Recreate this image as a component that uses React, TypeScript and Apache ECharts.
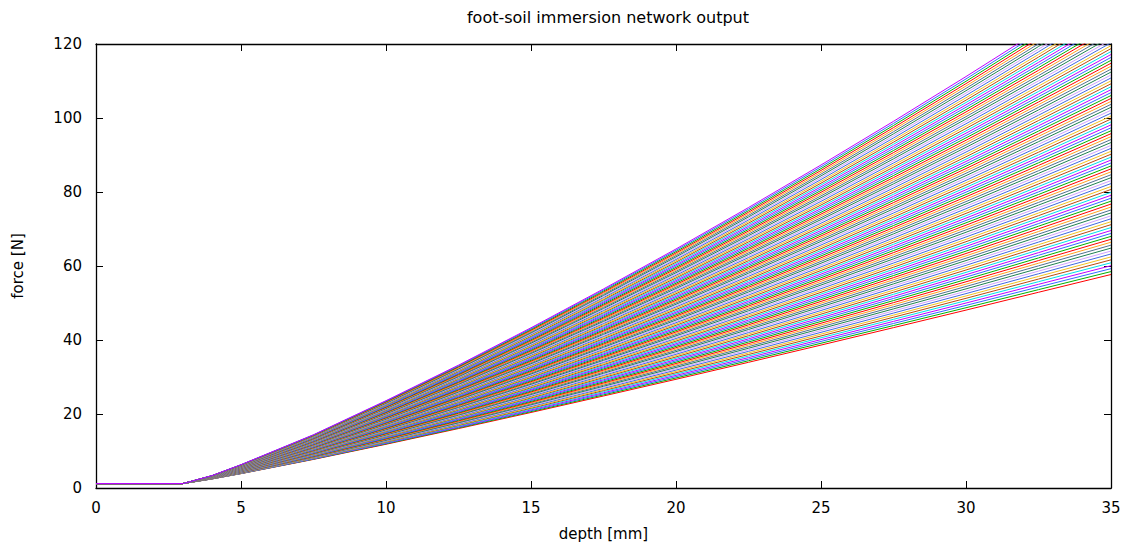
import React, { useEffect, useRef } from "react";
import * as echarts from "echarts";

// Depth samples (mm) shared by every network response curve
const depth = [0, 3, 4, 5, 7.5, 10, 12.5, 15, 17.5, 20, 22.5, 25, 27.5, 30, 32.5, 35];
// Softest soil response (lowest curve), force in N
const lowestForce = [1.2, 1.2, 2.45, 3.88, 7.73, 11.82, 16.06, 20.41, 24.87, 29.38, 33.97, 38.63, 43.34, 48.08, 52.9, 57.7];
// Stiffest soil response (highest curve), force in N
const highestForce = [1.2, 1.2, 3.35, 6.3, 14.4, 23.6, 33.2, 43.3, 53.8, 64.6, 75.8, 87.3, 99.1, 111.2, 123.6, 136.2];
// Number of evenly stepped soil parameters evaluated by the network
const curveCount = 100;

const xTicks = { min: 0, max: 35, interval: 5 };
const yTicks = { min: 0, max: 120, interval: 20 };

const lineColors = [
  "#ff0000",
  "#00b000",
  "#2f6bff",
  "#c000ff",
  "#00e0e8",
  "#b84a10",
  "#f2c020",
  "#4169e1",
  "#d0a0ff",
  "#208050",
  "#507090",
  "#ffa020",
];

const FONT = "DejaVu Sans";

export default function App() {
  const ref = useRef<HTMLDivElement>(null);

  useEffect(() => {
    if (!ref.current) return;
    const chart = echarts.init(ref.current, undefined, { renderer: "svg" });

    const series = [] as any[];
    for (let k = 0; k < curveCount; k++) {
      const t = k / (curveCount - 1);
      series.push({
        type: "line",
        xAxisIndex: 0,
        yAxisIndex: 0,
        showSymbol: false,
        symbol: "none",
        silent: true,
        clip: true,
        lineStyle: { width: 1, color: lineColors[k % lineColors.length] },
        data: depth.map((d, i) => [d, lowestForce[i] + (highestForce[i] - lowestForce[i]) * t]),
      });
    }

    const tickStyle = { show: true, inside: true, length: 7, lineStyle: { color: "#000", width: 1 } };
    const lineStyle = { show: true, onZero: false, lineStyle: { color: "#000", width: 1.3 } };
    const labelStyle = { color: "#000", fontFamily: FONT, fontSize: 15 };

    chart.setOption({
      animation: false,
      backgroundColor: "#fff",
      title: {
        text: "foot-soil immersion network output",
        left: 603,
        top: 4,
        textAlign: "center",
        textStyle: { color: "#000", fontFamily: FONT, fontSize: 16, fontWeight: "normal" },
      },
      grid: { left: 96, right: 15, top: 44, bottom: 55, containLabel: false },
      xAxis: [
        {
          type: "value",
          position: "bottom",
          ...xTicks,
          name: "depth [mm]",
          nameLocation: "middle",
          nameGap: 38,
          nameTextStyle: { color: "#000", fontFamily: FONT, fontSize: 15 },
          axisLine: lineStyle,
          axisTick: tickStyle,
          axisLabel: { ...labelStyle, margin: 12 },
          splitLine: { show: false },
        },
        {
          type: "value",
          position: "top",
          ...xTicks,
          axisLine: lineStyle,
          axisTick: tickStyle,
          axisLabel: { show: false },
          splitLine: { show: false },
        },
      ],
      yAxis: [
        {
          type: "value",
          position: "left",
          ...yTicks,
          name: "force [N]",
          nameLocation: "middle",
          nameGap: 71,
          nameRotate: 90,
          nameTextStyle: { color: "#000", fontFamily: FONT, fontSize: 15 },
          axisLine: lineStyle,
          axisTick: tickStyle,
          axisLabel: { ...labelStyle, margin: 14 },
          splitLine: { show: false },
        },
        {
          type: "value",
          position: "right",
          ...yTicks,
          axisLine: lineStyle,
          axisTick: tickStyle,
          axisLabel: { show: false },
          splitLine: { show: false },
        },
      ],
      series,
    });

    return () => chart.dispose();
  }, []);

  return (
    <div
      ref={ref}
      style={{ position: "fixed", left: 0, top: 0, width: 1126, height: 546, background: "#fff" }}
    />
  );
}
